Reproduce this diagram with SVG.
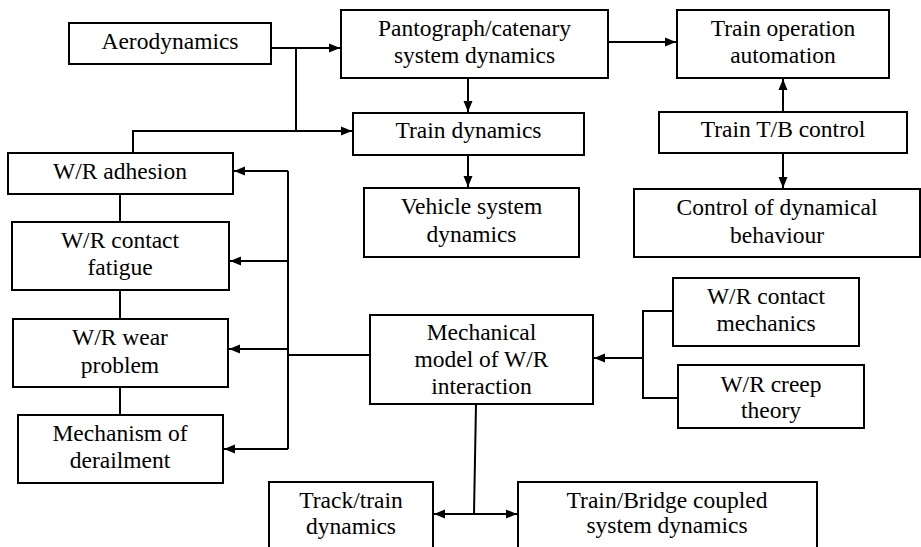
<svg xmlns="http://www.w3.org/2000/svg" width="921" height="547" viewBox="0 0 921 547" font-family="Liberation Serif, Times New Roman, serif">
<style>
.b{fill:#fff;stroke:#000;stroke-width:2}
.t{font-size:23.5px;fill:#000;text-anchor:middle}
.c{fill:none;stroke:#000;stroke-width:2}
.a{marker-end:url(#ah)}
</style>
<defs>
<marker id="ah" markerUnits="userSpaceOnUse" markerWidth="12" markerHeight="10" refX="11" refY="5" orient="auto">
<path d="M0,0.5 L11,5 L0,9.5 z" fill="#000"/>
</marker>
</defs>
<rect width="921" height="547" fill="#fff"/>
<g id="connectors">
<path class="c a" d="M271,48 H340"/>
<path class="c" d="M296,48 V131"/>
<path class="c a" d="M133,153 V131 H352"/>
<path class="c a" d="M608,42 H676"/>
<path class="c a" d="M468,78 V112"/>
<path class="c a" d="M468,155 V187"/>
<path class="c a" d="M783,112 V79"/>
<path class="c a" d="M783,153 V188"/>
<path class="c" d="M120,194 V222 M120,290 V319 M120,387 V415"/>
<path class="c a" d="M288,171 H234"/>
<path class="c" d="M288,171 V449"/>
<path class="c a" d="M288,261 H230"/>
<path class="c a" d="M288,349 H229"/>
<path class="c a" d="M288,449 H224"/>
<path class="c" d="M370,355 H288"/>
<path class="c" d="M673,311 H643 V398 H678"/>
<path class="c a" d="M643,358 H594"/>
<path class="c" d="M476,404 L474,514"/>
<path class="c a" d="M474,514 H434"/>
<path class="c a" d="M474,514 H517"/>
</g>
<g id="aerodynamics"><rect class="b" x="69" y="23" width="202" height="41"/><text class="t" x="170" y="49">Aerodynamics</text></g>
<g id="pantograph"><rect class="b" x="341" y="10" width="267" height="68"/><text class="t" x="474.5" y="36">Pantograph/catenary</text><text class="t" x="474.5" y="63">system dynamics</text></g>
<g id="train-operation"><rect class="b" x="677" y="10" width="212" height="68"/><text class="t" x="783" y="36">Train operation</text><text class="t" x="783" y="63">automation</text></g>
<g id="train-dynamics"><rect class="b" x="353" y="113" width="231" height="42"/><text class="t" x="468.5" y="138">Train dynamics</text></g>
<g id="train-tb"><rect class="b" x="659" y="112" width="248" height="41"/><text class="t" x="783" y="137">Train T/B control</text></g>
<g id="vehicle"><rect class="b" x="364" y="188" width="215" height="69"/><text class="t" x="471.5" y="214">Vehicle system</text><text class="t" x="471.5" y="242">dynamics</text></g>
<g id="control"><rect class="b" x="634" y="189" width="286" height="68"/><text class="t" x="777" y="215">Control of dynamical</text><text class="t" x="777" y="243">behaviour</text></g>
<g id="adhesion"><rect class="b" x="8" y="153" width="225" height="41"/><text class="t" x="120" y="179">W/R adhesion</text></g>
<g id="fatigue"><rect class="b" x="12" y="222" width="217" height="68"/><text class="t" x="120" y="248">W/R contact</text><text class="t" x="120" y="275">fatigue</text></g>
<g id="wear"><rect class="b" x="13" y="319" width="215" height="68"/><text class="t" x="120" y="345">W/R wear</text><text class="t" x="120" y="373">problem</text></g>
<g id="derailment"><rect class="b" x="18" y="415" width="205" height="68"/><text class="t" x="120" y="441">Mechanism of</text><text class="t" x="120" y="468">derailment</text></g>
<g id="mechanical"><rect class="b" x="370" y="315" width="223" height="89"/><text class="t" x="481.5" y="340">Mechanical</text><text class="t" x="481.5" y="367">model of W/R</text><text class="t" x="481.5" y="394">interaction</text></g>
<g id="contact-mechanics"><rect class="b" x="673" y="278" width="186" height="68"/><text class="t" x="766" y="304">W/R contact</text><text class="t" x="766" y="331">mechanics</text></g>
<g id="creep"><rect class="b" x="678" y="365" width="186" height="63"/><text class="t" x="771" y="392">W/R creep</text><text class="t" x="771" y="418">theory</text></g>
<g id="track-train"><rect class="b" x="269" y="482" width="164" height="80"/><text class="t" x="351" y="508">Track/train</text><text class="t" x="351" y="534">dynamics</text></g>
<g id="train-bridge"><rect class="b" x="518" y="482" width="299" height="80"/><text class="t" x="667" y="508">Train/Bridge coupled</text><text class="t" x="667" y="533">system dynamics</text></g>
</svg>
